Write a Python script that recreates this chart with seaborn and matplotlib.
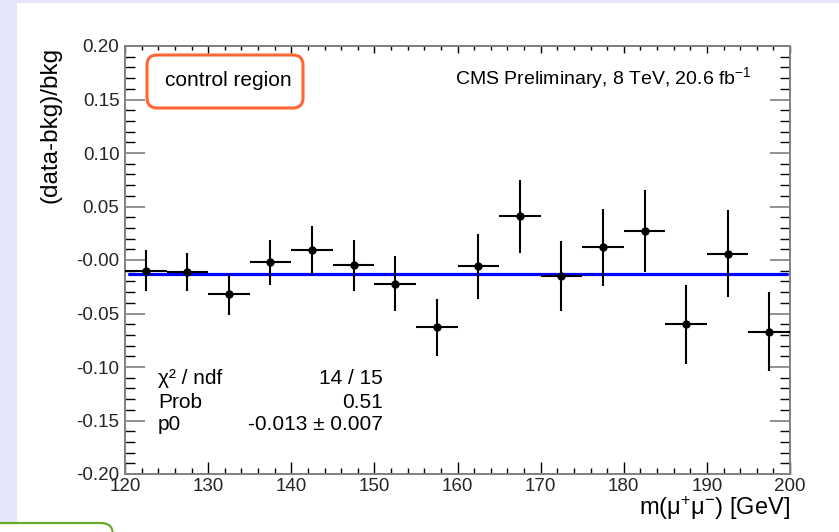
import numpy as np
import pandas as pd
import matplotlib
matplotlib.use("Agg")
import matplotlib.pyplot as plt
import seaborn as sns
from matplotlib.patches import FancyBboxPatch, Rectangle
from matplotlib.ticker import MultipleLocator

# ---- data ----
bin_centers = [122.5, 127.5, 132.5, 137.5, 142.5, 147.5, 152.5, 157.5,
               162.5, 167.5, 172.5, 177.5, 182.5, 187.5, 192.5, 197.5]
ratio = [-0.010, -0.011, -0.032, -0.002, 0.009, -0.005, -0.022, -0.063,
         -0.006, 0.041, -0.015, 0.012, 0.027, -0.060, 0.006, -0.067]
ratio_err = [0.019, 0.018, 0.019, 0.021, 0.023, 0.024, 0.026, 0.027,
             0.030, 0.034, 0.033, 0.036, 0.038, 0.037, 0.041, 0.037]
bin_half_width = [2.5] * 16
fit_p0 = -0.013
fit_range = [120.5, 199.6]
x_ticks = [120, 130, 140, 150, 160, 170, 180, 190, 200]
y_ticks = [0.20, 0.15, 0.10, 0.05, 0.0, -0.05, -0.10, -0.15, -0.20]
y_tick_labels = ["0.20", "0.15", "0.10", "0.05", "-0.00", "-0.05", "-0.10", "-0.15", "-0.20"]
stats_names = ["χ² / ndf", "Prob", "p0"]
stats_values = ["14 / 15", "0.51", "-0.013 ± 0.007"]

df = pd.DataFrame({"m": bin_centers, "r": ratio})
fit_df = pd.DataFrame({"m": fit_range, "r": [fit_p0, fit_p0]})

sns.set_theme(style="ticks")
plt.rcParams["font.family"] = ["Liberation Sans", "DejaVu Sans"]
plt.rcParams["mathtext.fontset"] = "custom"
plt.rcParams["mathtext.rm"] = "Liberation Sans"
plt.rcParams["mathtext.it"] = "Liberation Sans:italic"
plt.rcParams["mathtext.bf"] = "Liberation Sans:bold"
plt.rcParams["mathtext.sf"] = "Liberation Sans"

W, H = 839, 532
fig = plt.figure(figsize=(W / 100, H / 100), dpi=100)
fig.patch.set_facecolor("white")

def px(x, y):
    return (x / 100, (H - y) / 100)

inch = fig.dpi_scale_trans
lav = "#e6e6fa"
# lavender page borders
fig.add_artist(Rectangle(px(0, 523), 0.17, (523 - 0) / 100, transform=inch,
                         facecolor=lav, edgecolor="none", zorder=0))
fig.add_artist(Rectangle(px(0, 3), W / 100, 0.03, transform=inch,
                         facecolor=lav, edgecolor="none", zorder=0))
# green box partially visible at bottom-left
fig.add_artist(FancyBboxPatch(px(-20, 560), 1.33, 0.37, transform=inch,
                              boxstyle="round,pad=0,rounding_size=0.12",
                              facecolor="white", edgecolor="#6aaa2a", linewidth=1.6,
                              zorder=1))

ax = fig.add_axes([125 / W, (H - 474) / H, 665 / W, 428 / H])
ax.set_facecolor("white")

# fit line
sns.lineplot(data=fit_df, x="m", y="r", ax=ax, color="#0000ff", linewidth=2.3,
             zorder=2, legend=False)
# error bars
ax.errorbar(bin_centers, ratio, yerr=ratio_err, xerr=bin_half_width, fmt="none",
            ecolor="black", elinewidth=1.5, capsize=0, zorder=3)
# points
sns.scatterplot(data=df, x="m", y="r", ax=ax, color="black", s=36,
                edgecolor="black", linewidth=0, zorder=4, legend=False)

ax.set_xlim(120, 200)
ax.set_ylim(-0.2, 0.2)
ax.set_xlabel("")
ax.set_ylabel("")
ax.set_xticks(x_ticks)
ax.set_xticklabels([str(t) for t in x_ticks])
ax.set_yticks(y_ticks)
ax.set_yticklabels(y_tick_labels)
ax.xaxis.set_minor_locator(MultipleLocator(2))
ax.yaxis.set_minor_locator(MultipleLocator(0.01))

for s in ax.spines.values():
    s.set_color("#808080")
    s.set_linewidth(1.4)
    s.set_visible(True)

ax.tick_params(axis="x", which="major", direction="in", length=9, width=1.0,
               color="black", labelsize=13.5, pad=3, top=False, bottom=True)
ax.tick_params(axis="x", which="minor", direction="in", length=4.5, width=1.0,
               color="black", top=False, bottom=True)
ax.tick_params(axis="y", which="major", direction="in", length=14.4, width=1.3,
               color="#888888", labelsize=13.5, pad=4, left=True, right=True)
ax.tick_params(axis="y", which="minor", direction="in", length=7.2, width=1.0,
               color="black", left=True, right=True)

top = ax.secondary_xaxis("top")
top.set_xticks(x_ticks)
top.set_xticklabels([])
top.xaxis.set_minor_locator(MultipleLocator(2))
top.tick_params(axis="x", which="major", direction="in", length=5, width=1.0, color="black")
top.tick_params(axis="x", which="minor", direction="in", length=3, width=1.0, color="black")
top.spines["top"].set_color("#808080")
top.spines["top"].set_linewidth(1.4)

# axis titles
fig.text(*px(51, 47), "(data-bkg)/bkg", transform=inch, rotation=90,
         ha="center", va="top", fontsize=17.5, color="black")
fig.text(*px(790, 508), "m(μ$^{+}$μ$^{-}$) [GeV]", transform=inch,
         ha="right", va="center", fontsize=17, color="black")

# control region box
fig.add_artist(FancyBboxPatch(px(147, 108), 1.56, 0.53, transform=inch,
                              boxstyle="round,pad=0,rounding_size=0.1",
                              facecolor="white", edgecolor="#ff6633", linewidth=2.2,
                              zorder=5))
fig.text(*px(228, 80), "control region", transform=inch, ha="center", va="center",
         fontsize=15, color="black", zorder=6)

fig.text(*px(752, 78), "CMS Preliminary, 8 TeV, 20.6 fb$^{-1}$", transform=inch,
         ha="right", va="center", fontsize=14, color="black")

# fit statistics
row_y = [378, 402, 424]
for name, val, yy in zip(stats_names, stats_values, row_y):
    fig.text(*px(158, yy), name, transform=inch, ha="left", va="center",
             fontsize=15, color="black")
    fig.text(*px(383, yy), val, transform=inch, ha="right", va="center",
             fontsize=15, color="black")

fig.savefig("out.png", dpi=100, facecolor="white")
